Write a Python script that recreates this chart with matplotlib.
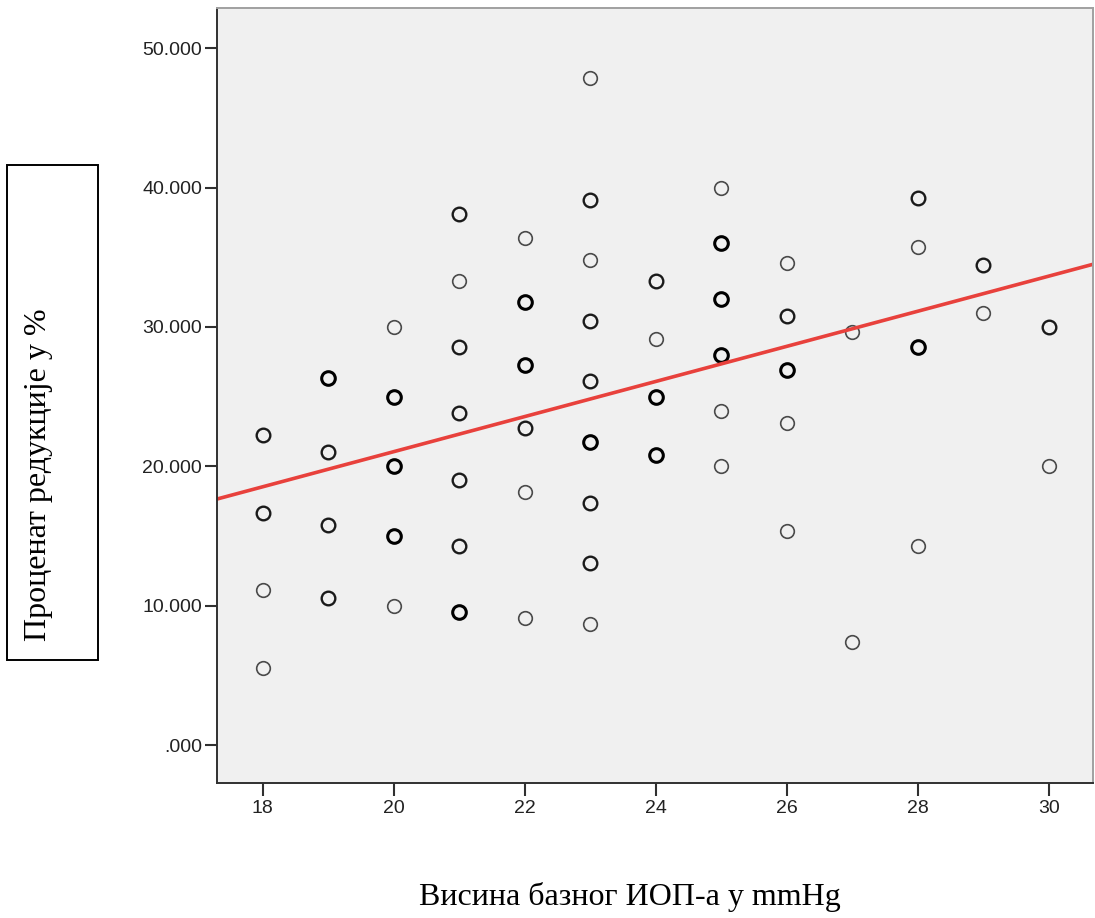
import numpy as np
import matplotlib
matplotlib.use("Agg")
import matplotlib.pyplot as plt
from matplotlib.patches import Rectangle
from matplotlib.ticker import FuncFormatter

# Базни ИОП (mmHg), проценат редукције (%), број поклопљених тачака
iop = [18, 18, 18, 18,
       19, 19, 19, 19,
       20, 20, 20, 20, 20,
       21, 21, 21, 21, 21, 21, 21,
       22, 22, 22, 22, 22, 22,
       23, 23, 23, 23, 23, 23, 23, 23, 23,
       24, 24, 24, 24,
       25, 25, 25, 25, 25, 25,
       26, 26, 26, 26, 26,
       27, 27,
       28, 28, 28, 28,
       29, 29,
       30, 30]
reduction = [22.22, 16.67, 11.11, 5.56,
             26.32, 21.05, 15.79, 10.53,
             30.0, 25.0, 20.0, 15.0, 10.0,
             38.10, 33.33, 28.57, 23.81, 19.05, 14.29, 9.52,
             36.36, 31.82, 27.27, 22.73, 18.18, 9.09,
             47.83, 39.13, 34.78, 30.43, 26.09, 21.74, 17.39, 13.04, 8.70,
             33.33, 29.17, 25.0, 20.83,
             40.0, 36.0, 32.0, 28.0, 24.0, 20.0,
             34.62, 30.77, 26.92, 23.08, 15.38,
             29.63, 7.41,
             39.29, 35.71, 28.57, 14.29,
             34.48, 31.03,
             30.0, 20.0]
counts = [2, 2, 1, 1,
          3, 2, 2, 2,
          1, 3, 3, 3, 1,
          2, 1, 2, 2, 2, 2, 3,
          1, 3, 3, 2, 1, 1,
          1, 2, 1, 2, 2, 3, 2, 2, 1,
          2, 1, 3, 3,
          1, 3, 3, 3, 1, 1,
          1, 2, 3, 1, 1,
          1, 1,
          2, 1, 3, 1,
          2, 1,
          2, 1]

# линија тренда (очитано са графика)
fit_slope = 1.26
fit_intercept = -4.15

x_ticks = [18, 20, 22, 24, 26, 28, 30]
y_ticks = [0, 10, 20, 30, 40, 50]

x = np.array(iop, dtype=float)
y = np.array(reduction)
n = np.array(counts)

fig = plt.figure(figsize=(10.95, 9.18), dpi=100)
ax = fig.add_axes([0.198, 0.147, 0.800, 0.844])
ax.set_facecolor("#f0f0f0")

# тачке: поклопљени кругови су тамнији
styles = {1: ("#4a4a4a", 1.2), 2: ("#1a1a1a", 1.7), 3: ("#000000", 2.2)}
for k, (col, lw) in styles.items():
    m = n == k
    ax.plot(x[m], y[m], "o", ms=9.8, mfc="none", mec=col, mew=lw, ls="none")

xlim = (17.3, 30.67)
xl = np.array(xlim)
ax.plot(xl, fit_intercept + fit_slope * xl, color="#e8413c", lw=2.6)

ax.set_xlim(*xlim)
ax.set_ylim(-2.73, 52.87)
ax.set_xticks(x_ticks)
ax.set_yticks(y_ticks)


def fmt(v, pos):
    s = f"{v:.3f}"
    return s[1:] if s.startswith("0") else s


ax.yaxis.set_major_formatter(FuncFormatter(fmt))
ax.tick_params(direction="out", length=9, width=1.5, color="#303030",
               labelsize=14, labelcolor="#222222")
ax.tick_params(axis="y", pad=1.5)
ax.tick_params(axis="x", pad=3)
for lab in ax.get_xticklabels() + ax.get_yticklabels():
    lab.set_family("Liberation Sans")

for side in ("left", "bottom"):
    ax.spines[side].set_color("#303030")
    ax.spines[side].set_linewidth(1.4)
for side in ("top", "right"):
    ax.spines[side].set_color("#a0a0a0")
    ax.spines[side].set_linewidth(1.4)

# оквир и наслов осе Y
fig.patches.append(Rectangle((7 / 1095, 1 - 660 / 918), 91 / 1095, 495 / 918,
                             transform=fig.transFigure, fill=False,
                             ec="black", lw=1.4))
fig.text(39 / 1095, 1 - 475 / 918, "Проценат редукције у %", rotation=90,
         ha="center", va="center", fontsize=23, family="Liberation Serif")

fig.text(630 / 1095, 1 - 905 / 918, "Висина базног ИОП-а у mmHg",
         ha="center", va="baseline", fontsize=23, family="Liberation Serif")

fig.savefig("out.png", dpi=100)
